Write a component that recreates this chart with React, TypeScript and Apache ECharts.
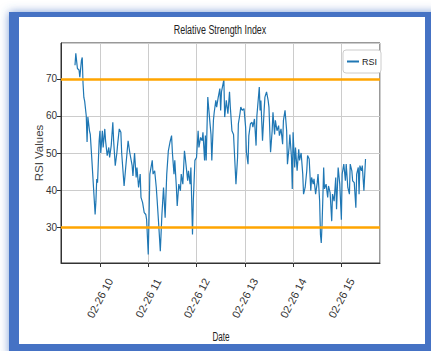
import { useEffect, useRef } from 'react';
import * as echarts from 'echarts';

const DAY = '2024-02-26';

const times = [
  '09:29', '09:30', '09:32', '09:34', '09:35', '09:37', '09:38', '09:39', '09:40', '09:41',
  '09:43', '09:44', '09:45', '09:47', '09:48', '09:50', '09:52', '09:54', '09:55', '09:56',
  '09:57', '09:59', '10:00', '10:01', '10:03', '10:04', '10:06', '10:07', '10:09', '10:11',
  '10:12', '10:14', '10:16', '10:17', '10:19', '10:21', '10:22', '10:24', '10:26', '10:27',
  '10:30', '10:32', '10:35', '10:37', '10:40', '10:41', '10:43', '10:45', '10:46', '10:48',
  '10:50', '10:51', '10:53', '10:55', '10:57', '10:58', '11:00', '11:01', '11:02', '11:05',
  '11:06', '11:08', '11:10', '11:11', '11:13', '11:15', '11:17', '11:18', '11:19', '11:21',
  '11:23', '11:25', '11:27', '11:29', '11:30', '11:32', '11:33', '11:35', '11:36', '11:38',
  '11:40', '11:41', '11:43', '11:45', '11:46', '11:49', '11:50', '11:52', '11:53', '11:55',
  '11:56', '11:57', '11:58', '12:00', '12:02', '12:03', '12:05', '12:07', '12:08', '12:10',
  '12:11', '12:12', '12:14', '12:15', '12:17', '12:18', '12:19', '12:21', '12:22', '12:24',
  '12:25', '12:27', '12:29', '12:30', '12:31', '12:34', '12:35', '12:37', '12:39', '12:41',
  '12:42', '12:44', '12:46', '12:48', '12:49', '12:51', '12:52', '12:54', '12:55', '12:57',
  '12:59', '13:01', '13:02', '13:04', '13:05', '13:07', '13:09', '13:10', '13:12', '13:14',
  '13:15', '13:18', '13:19', '13:20', '13:22', '13:24', '13:25', '13:27', '13:29', '13:30',
  '13:32', '13:34', '13:35', '13:37', '13:38', '13:40', '13:42', '13:43', '13:45', '13:47',
  '13:48', '13:50', '13:52', '13:53', '13:55', '13:56', '13:58', '13:59', '14:00', '14:02',
  '14:03', '14:05', '14:07', '14:08', '14:10', '14:12', '14:13', '14:15', '14:17', '14:18',
  '14:20', '14:22', '14:23', '14:25', '14:26', '14:28', '14:30', '14:31', '14:33', '14:34',
  '14:35', '14:36', '14:37', '14:38', '14:39', '14:41', '14:43', '14:44', '14:46', '14:48',
  '14:49', '14:51', '14:53', '14:54', '14:56', '14:58', '15:00', '15:01', '15:03', '15:05',
  '15:06', '15:08', '15:10', '15:11', '15:13', '15:14', '15:16', '15:18', '15:19', '15:21',
  '15:22', '15:23', '15:25', '15:26', '15:28', '15:30',
];

const rsiValues = [
  73.7, 76.9, 72.8, 72.4, 70.5, 75.0, 75.8, 68.7, 65.0, 64.0,
  60.0, 53.0, 59.7, 56.0, 55.0, 48.0, 40.7, 33.4, 37.0, 43.0,
  42.0, 53.3, 56.0, 50.0, 56.0, 51.5, 56.5, 53.3, 49.3, 51.5,
  48.8, 52.0, 58.3, 53.3, 46.6, 50.0, 52.4, 56.5, 55.6, 50.0,
  41.1, 46.1, 53.3, 50.2, 46.6, 43.8, 50.0, 43.4, 46.1, 40.7,
  44.3, 38.0, 36.6, 33.9, 33.4, 32.0, 22.6, 32.5, 44.3, 48.0,
  44.3, 45.2, 40.7, 37.5, 30.7, 23.5, 33.4, 37.0, 40.7, 32.5,
  44.3, 50.6, 52.9, 54.7, 50.2, 44.3, 48.0, 40.7, 35.7, 41.6,
  39.8, 44.3, 41.6, 50.6, 48.8, 42.5, 45.2, 41.6, 46.1, 28.0,
  37.0, 42.5, 48.0, 48.8, 56.0, 51.5, 54.2, 53.3, 55.6, 48.0,
  54.7, 48.0, 65.1, 62.4, 57.4, 55.0, 48.0, 58.8, 61.0, 64.2,
  62.4, 65.1, 67.4, 61.5, 66.5, 69.8, 59.7, 64.2, 60.6, 66.5,
  62.4, 56.0, 55.0, 46.1, 41.6, 48.8, 57.9, 60.6, 62.4, 61.5,
  62.0, 57.0, 50.2, 47.0, 54.7, 57.9, 58.3, 57.0, 59.2, 52.0,
  60.0, 67.8, 61.5, 64.2, 53.3, 61.5, 65.1, 66.5, 64.2, 62.4,
  50.2, 56.0, 61.0, 55.0, 58.8, 56.0, 57.4, 54.7, 56.5, 52.4,
  58.8, 61.5, 56.0, 47.0, 51.5, 55.0, 48.8, 40.3, 55.6, 46.1,
  51.5, 45.2, 51.0, 48.0, 50.0, 44.3, 38.9, 40.7, 45.2, 49.3,
  48.4, 39.8, 43.4, 41.6, 43.0, 38.9, 42.0, 44.3, 37.0, 28.0,
  25.7, 30.7, 38.0, 46.1, 40.3, 41.6, 38.0, 41.1, 39.3, 31.6,
  38.9, 37.0, 43.4, 34.8, 46.1, 41.6, 32.0, 44.3, 47.0, 42.5,
  47.0, 40.7, 38.9, 47.0, 45.2, 42.5, 42.0, 35.2, 44.3, 46.1,
  38.9, 46.6, 45.2, 46.6, 39.8, 48.4,
];

const overbought = 70;
const oversold = 30;
const xStart = '09:11:36';
const xEnd = '15:48:00';
const yMin = 20.3;
const yMax = 79.7;

const FONT = 'Liberation Sans';

const toMs = (hm: string) => new Date(`${DAY}T${hm.length === 5 ? hm + ':00' : hm}`).getTime();
const pad = (n: number) => String(n).padStart(2, '0');

export default function App() {
  const ref = useRef<HTMLDivElement>(null);

  useEffect(() => {
    if (!ref.current) return;
    const chart = echarts.init(ref.current, undefined, { renderer: 'svg' });
    const data = times.map((t, i) => [toMs(t), rsiValues[i]]);

    chart.setOption({
      animation: false,
      backgroundColor: '#ffffff',
      graphic: [
        {
          type: 'rect',
          z: -10,
          silent: true,
          shape: { x: 9, y: 12, width: 430, height: 345 },
          style: { fill: '#4472c4', shadowBlur: 10, shadowColor: 'rgba(68,114,196,0.7)' },
        },
        {
          type: 'rect',
          z: -9,
          silent: true,
          shape: { x: 19, y: 17, width: 406, height: 327 },
          style: { fill: '#ffffff' },
        },
        {
          type: 'text',
          z: 5,
          x: 220,
          y: 29,
          scaleX: 0.66,
          style: {
            text: 'Relative Strength Index',
            fontFamily: FONT,
            fontSize: 13.5,
            fill: '#222',
            align: 'center',
            verticalAlign: 'middle',
          },
        },
        {
          type: 'text',
          z: 5,
          x: 221,
          y: 337,
          scaleX: 0.68,
          style: {
            text: 'Date',
            fontFamily: FONT,
            fontSize: 12,
            fill: '#222',
            align: 'center',
            verticalAlign: 'middle',
          },
        },
      ],
      grid: {
        left: 61,
        right: 51,
        top: 43,
        bottom: 88,
        show: true,
        borderColor: '#333',
        borderWidth: 1,
        backgroundColor: 'transparent',
      },
      legend: {
        left: 343,
        top: 50,
        padding: [7, 4, 7, 4],
        backgroundColor: '#fff',
        borderColor: '#ccc',
        borderWidth: 1,
        borderRadius: 3,
        itemWidth: 12,
        itemHeight: 2,
        itemGap: 3,
        data: [{ name: 'RSI', icon: 'rect' }],
        textStyle: { fontFamily: FONT, fontSize: 9, color: '#222', padding: [0, 0, 0, -2] },
      },
      xAxis: {
        type: 'time',
        min: toMs(xStart),
        max: toMs(xEnd),
        minInterval: 3600 * 1000,
        maxInterval: 3600 * 1000,
        splitNumber: 7,
        axisLine: { lineStyle: { color: '#333', width: 1 } },
        axisTick: { show: true, length: 4, lineStyle: { color: '#333' } },
        axisLabel: {
          rotate: 62,
          margin: 35,
          align: 'center',
          verticalAlign: 'middle',
          fontFamily: FONT,
          fontSize: 11,
          color: '#333',
          showMinLabel: false,
          showMaxLabel: false,
          formatter: (v: number) => {
            const d = new Date(v);
            return `${pad(d.getMonth() + 1)}-${pad(d.getDate())} ${pad(d.getHours())}`;
          },
        },
        splitLine: { show: true, lineStyle: { color: '#cccccc', width: 1 } },
      },
      yAxis: {
        type: 'value',
        min: yMin,
        max: yMax,
        splitNumber: 6,
        name: 'RSI Values',
        nameLocation: 'middle',
        nameGap: 16,
        nameMoveOverlap: false,
        nameTextStyle: { fontFamily: FONT, fontSize: 11.5, color: '#444' },
        axisLine: { show: true, lineStyle: { color: '#333', width: 1 } },
        axisTick: { show: true, length: 4, lineStyle: { color: '#333' } },
        axisLabel: {
          margin: 4,
          fontFamily: FONT,
          fontSize: 10,
          color: '#333',
          showMinLabel: false,
          showMaxLabel: false,
        },
        splitLine: { show: true, lineStyle: { color: '#cccccc', width: 1 } },
      },
      series: [
        {
          name: 'RSI',
          type: 'line',
          data,
          showSymbol: false,
          symbol: 'none',
          lineStyle: { color: '#1f77b4', width: 1.2 },
          itemStyle: { color: '#1f77b4' },
          z: 3,
          markLine: {
            silent: true,
            symbol: ['none', 'none'],
            label: { show: false },
            lineStyle: { color: '#ffa500', width: 2.5, type: 'solid' },
            data: [{ yAxis: overbought }, { yAxis: oversold }],
          },
        },
      ],
    });

    return () => chart.dispose();
  }, []);

  return (
    <div
      ref={ref}
      style={{ position: 'fixed', left: 0, top: 0, width: 431, height: 351 }}
    />
  );
}
